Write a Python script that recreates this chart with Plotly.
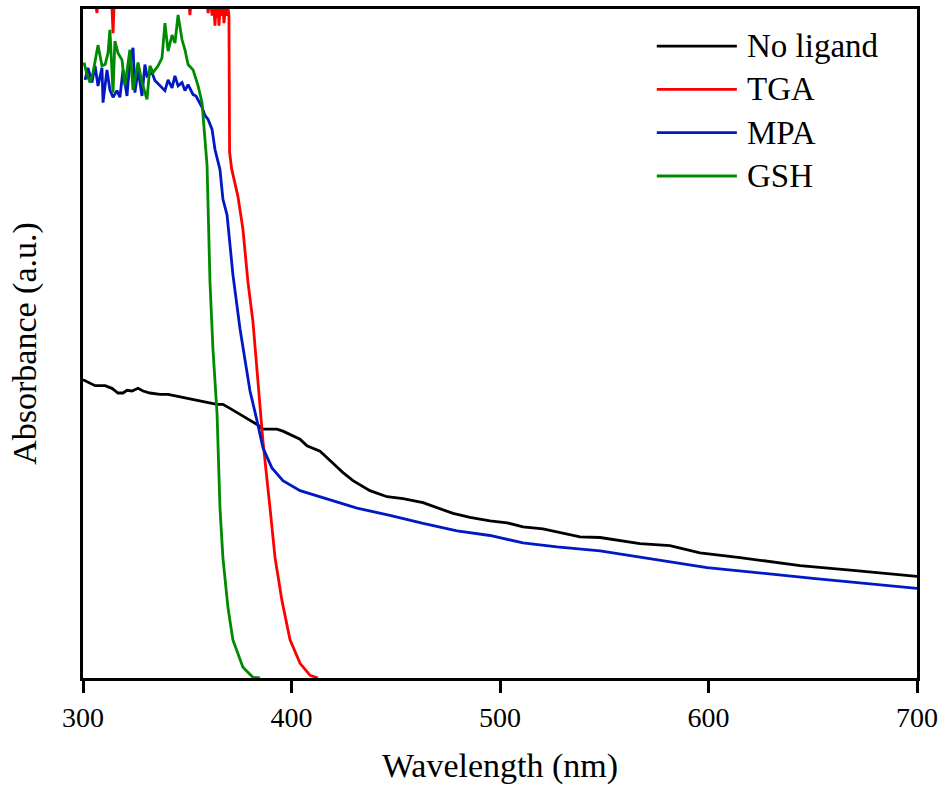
import plotly.graph_objects as go

# ---------------- data (wavelength in nm, absorbance in a.u.) ----------------
noligand_wl = [300.0, 303.4, 305.8, 310.6, 313.9, 316.8, 319.2, 321.1, 323.5, 326.4, 328.8, 332.1,
               336.9, 340.8, 345.1, 349.9, 353.7, 359.5, 364.3, 367.1, 370.5, 375.3, 380.1, 383.5,
               386.3, 393.0, 395.9, 400.7, 404.1, 407.4, 413.7, 419.9, 424.7, 429.5, 437.6, 445.8,
               453.5, 463.1, 471.2, 477.5, 485.6, 495.2, 503.4, 511.0, 520.6, 530.2, 538.4, 548.0,
               567.1, 581.5, 595.9, 615.1, 630.9, 643.9, 669.3, 685.6, 700.0]
noligand_abs = [0.446, 0.440, 0.437, 0.437, 0.433, 0.426, 0.426, 0.430, 0.429, 0.433, 0.429, 0.426,
                0.424, 0.424, 0.421, 0.418, 0.415, 0.412, 0.409, 0.409, 0.403, 0.394, 0.385, 0.379,
                0.372, 0.372, 0.369, 0.362, 0.357, 0.347, 0.339, 0.321, 0.307, 0.295, 0.280, 0.271,
                0.268, 0.262, 0.253, 0.246, 0.240, 0.235, 0.232, 0.226, 0.223, 0.216, 0.211, 0.210,
                0.201, 0.198, 0.187, 0.180, 0.173, 0.168, 0.161, 0.156, 0.152]

tga_wl = [300.0, 302.0, 304.0, 305.5, 306.7, 307.8, 310.0, 312.5, 313.8, 314.4, 315.2, 318.0,
          325.0, 333.0, 341.0, 348.0, 350.5, 351.3, 352.2, 355.0, 358.5, 360.0, 361.0, 361.9,
          362.6, 363.3, 363.8, 364.3, 364.8, 365.2, 366.0, 366.7, 367.2, 367.6, 368.3, 369.1,
          369.6, 370.0, 370.3, 371.3, 372.9, 374.3, 376.7, 379.1, 381.5, 383.9, 386.3, 389.7,
          392.1, 395.4, 399.3, 404.1, 408.9, 412.7]
tga_abs = [1.15, 1.10, 1.07, 1.02, 0.994, 1.04, 1.12, 1.06, 1.01, 0.964, 1.03, 1.14,
           1.18, 1.12, 1.16, 1.08, 1.02, 0.991, 1.03, 1.10, 1.04, 0.994, 1.02, 0.990,
           1.01, 0.975, 1.00, 0.987, 1.00, 0.975, 1.01, 0.990, 1.00, 0.979, 1.00, 0.990,
           1.00, 0.990, 0.786, 0.761, 0.741, 0.720, 0.671, 0.592, 0.533, 0.443, 0.354, 0.254,
           0.180, 0.116, 0.057, 0.022, 0.004, 0.000]

mpa_wl = [301.0, 302.4, 304.3, 305.8, 307.2, 309.1, 309.6, 311.5, 312.9, 314.4, 316.3, 317.7,
          319.2, 321.1, 322.5, 324.0, 324.9, 326.4, 328.3, 329.7, 330.7, 333.1, 334.5, 336.9,
          339.3, 340.8, 342.7, 344.1, 345.6, 347.5, 348.9, 350.4, 352.8, 354.2, 357.1, 358.5,
          360.0, 361.9, 363.3, 365.7, 367.1, 369.1, 371.9, 375.3, 377.7, 380.1, 383.5, 386.3,
          390.6, 395.9, 404.1, 419.9, 431.4, 447.2, 463.1, 479.4, 495.2, 511.0, 527.3, 548.0,
          599.3, 650.1, 700.0]
mpa_abs = [0.894, 0.912, 0.890, 0.915, 0.885, 0.912, 0.860, 0.909, 0.879, 0.868, 0.878, 0.868,
           0.909, 0.870, 0.923, 0.942, 0.875, 0.909, 0.870, 0.917, 0.900, 0.905, 0.893, 0.885,
           0.878, 0.894, 0.882, 0.900, 0.885, 0.890, 0.878, 0.887, 0.872, 0.870, 0.853, 0.841,
           0.835, 0.820, 0.790, 0.760, 0.716, 0.692, 0.603, 0.522, 0.473, 0.429, 0.384, 0.344,
           0.314, 0.295, 0.280, 0.265, 0.254, 0.243, 0.231, 0.220, 0.213, 0.202, 0.196, 0.190,
           0.165, 0.149, 0.134]

gsh_wl = [300.5, 301.9, 303.4, 304.8, 307.2, 309.1, 310.6, 312.0, 312.9, 314.4, 315.3, 316.8,
          318.7, 320.1, 322.5, 324.0, 326.4, 328.3, 330.7, 332.1, 333.6, 336.0, 337.9, 339.3,
          340.8, 342.7, 344.1, 345.6, 347.5, 348.9, 350.4, 352.8, 355.2, 357.1, 359.5, 360.0,
          360.9, 362.3, 364.3, 365.7, 367.1, 369.5, 371.9, 376.7, 381.5, 384.9]
gsh_abs = [0.920, 0.902, 0.890, 0.905, 0.946, 0.915, 0.917, 0.934, 0.969, 0.875, 0.952, 0.934,
           0.924, 0.885, 0.939, 0.879, 0.920, 0.890, 0.865, 0.915, 0.905, 0.915, 0.927, 0.979,
           0.937, 0.961, 0.949, 0.991, 0.954, 0.939, 0.917, 0.909, 0.885, 0.860, 0.766, 0.692,
           0.592, 0.493, 0.394, 0.254, 0.180, 0.106, 0.057, 0.016, 0.001, 0.000]

x_ticks = [300, 400, 500, 600, 700]
series_names = ["No ligand", "TGA", "MPA", "GSH"]
series_colors = ["#000000", "#FF0000", "#0019C4", "#008A00"]
series_x = [noligand_wl, tga_wl, mpa_wl, gsh_wl]
series_y = [noligand_abs, tga_abs, mpa_abs, gsh_abs]

FONT = "Liberation Serif"
LW = 2.8

fig = go.Figure()
for name, xs, ys, col in zip(series_names, series_x, series_y, series_colors):
    fig.add_trace(go.Scatter(x=xs, y=ys, mode="lines", name=name,
                             line=dict(color=col, width=LW), showlegend=False))

# legend drawn as sample lines + labels (long sample lines like the original)
leg_x0, leg_x1, leg_text_x = 0.688, 0.784, 0.794
leg_y_top, leg_dy = 0.9445, 0.0647
for i, (name, col) in enumerate(zip(series_names, series_colors)):
    yy = leg_y_top - i * leg_dy
    fig.add_shape(type="line", xref="paper", yref="paper",
                  x0=leg_x0, x1=leg_x1, y0=yy, y1=yy,
                  line=dict(color=col, width=LW))
    fig.add_annotation(xref="paper", yref="paper", x=leg_text_x, y=yy,
                       xanchor="left", yanchor="middle", showarrow=False,
                       text=name, font=dict(size=33, family=FONT, color="black"))

fig.update_layout(
    width=948, height=792,
    margin=dict(l=83, r=31, t=6, b=114),
    paper_bgcolor="white", plot_bgcolor="white",
    font=dict(family=FONT, color="black"),
    showlegend=False,
)
fig.update_xaxes(
    range=[300, 700], tickvals=x_ticks, ticktext=[str(t) for t in x_ticks],
    ticks="outside", ticklen=12, tickwidth=2.5, tickcolor="black",
    showline=True, linewidth=3, linecolor="black", mirror=True,
    showgrid=False, zeroline=False,
    tickfont=dict(size=28, family=FONT, color="black"),
    title=dict(text="Wavelength (nm)", font=dict(size=34, family=FONT), standoff=22),
)
fig.update_yaxes(
    range=[0, 1], showticklabels=False, ticks="",
    showline=True, linewidth=3, linecolor="black", mirror=True,
    showgrid=False, zeroline=False,
    title=dict(text="Absorbance (a.u.)", font=dict(size=34, family=FONT), standoff=34),
)

fig.write_html("out.html")
